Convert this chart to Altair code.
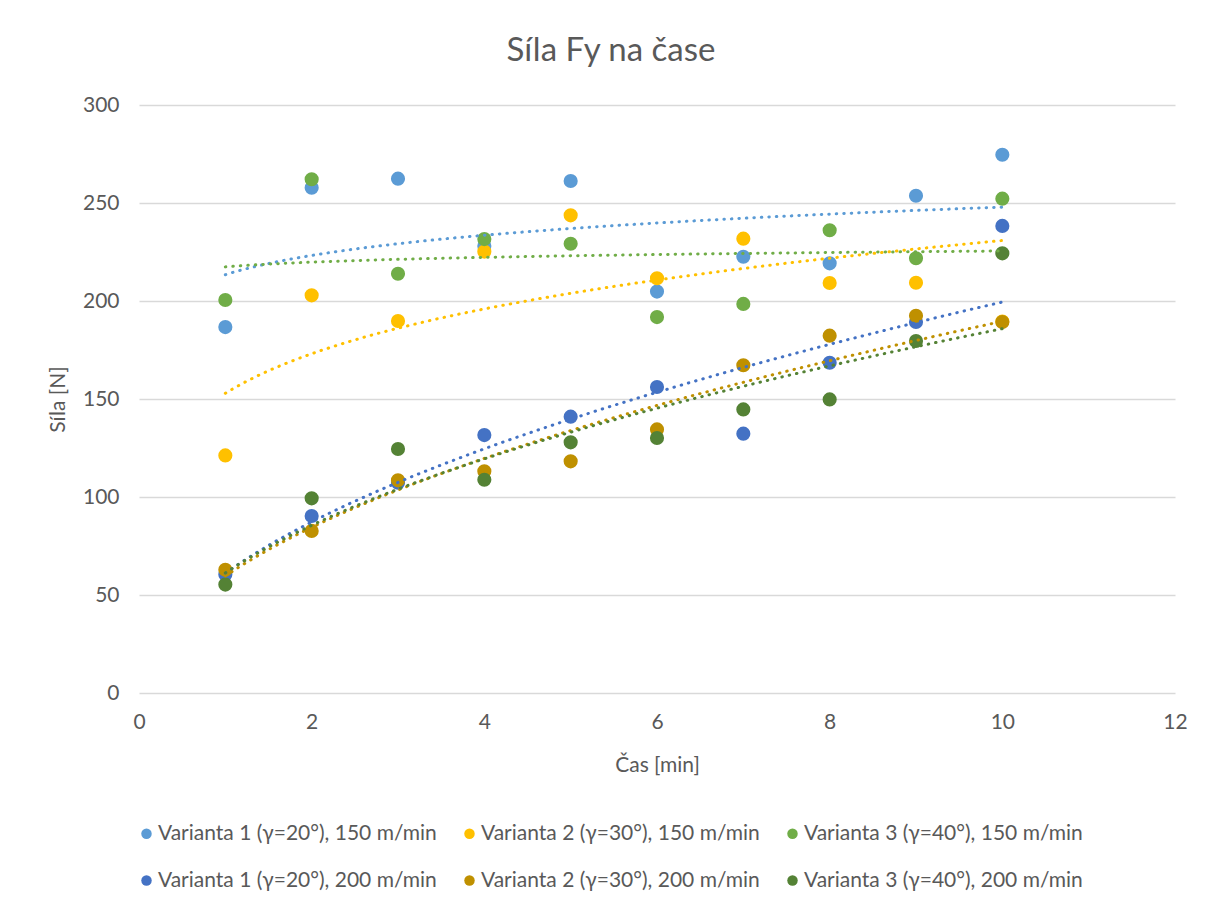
import altair as alt
import pandas as pd

# ---- data ----
cas = [1, 2, 3, 4, 5, 6, 7, 8, 9, 10]
series_names = [
    "Varianta 1 (γ=20°), 150 m/min",
    "Varianta 2 (γ=30°), 150 m/min",
    "Varianta 3 (γ=40°), 150 m/min",
    "Varianta 1 (γ=20°), 200 m/min",
    "Varianta 2 (γ=30°), 200 m/min",
    "Varianta 3 (γ=40°), 200 m/min",
]
v1_150 = [186.7, 257.8, 262.4, 228.0, 261.2, 204.8, 222.6, 219.2, 253.7, 274.6]
v2_150 = [121.2, 202.9, 189.8, 225.2, 243.7, 211.6, 231.8, 209.2, 209.3, 189.5]
v3_150 = [200.5, 262.1, 213.9, 231.6, 229.2, 191.8, 198.5, 236.1, 221.8, 252.2]
v1_200 = [60.5, 90.3, 107.3, 131.6, 141.0, 156.1, 132.3, 168.5, 189.3, 238.3]
v2_200 = [62.9, 82.7, 108.5, 113.1, 118.2, 134.5, 167.2, 182.3, 192.5, 189.3]
v3_200 = [55.3, 99.3, 124.5, 108.8, 127.9, 130.1, 144.7, 149.8, 179.6, 224.3]
colors = ["#5B9BD5", "#FFC000", "#70AD47", "#4472C4", "#BF9000", "#548235"]
x_ticks = [0, 2, 4, 6, 8, 10, 12]
y_ticks = [0, 50, 100, 150, 200, 250, 300]

rows = []
for name, vals in zip(series_names, [v1_150, v2_150, v3_150, v1_200, v2_200, v3_200]):
    for x, y in zip(cas, vals):
        rows.append({"serie": name, "cas": x, "sila": y})
df = pd.DataFrame(rows)

TXT = "#595959"
FONT = "Lato"

color_scale = alt.Scale(domain=series_names, range=colors)

x_enc = alt.X(
    "cas:Q",
    scale=alt.Scale(domain=[0, 12], nice=False),
    axis=alt.Axis(values=x_ticks, format="d", title="Čas [min]", grid=False,
                  labelFlush=False, labelPadding=18, titlePadding=22),
)
y_enc = alt.Y(
    "sila:Q",
    scale=alt.Scale(domain=[0, 300], nice=False),
    axis=alt.Axis(values=y_ticks, title="Síla [N]", grid=True,
                  labelFlush=False, labelPadding=20, titlePadding=14),
)

points = alt.Chart(df).mark_circle(size=200, opacity=1).encode(
    x=x_enc,
    y=y_enc,
    color=alt.Color(
        "serie:N",
        scale=color_scale,
        legend=alt.Legend(
            title=None, orient="none", legendX=-3, legendY=718,
            columns=3, direction="horizontal", symbolType="circle",
            symbolSize=110, symbolStrokeWidth=0, labelFont=FONT,
            labelFontSize=21, labelColor=TXT, columnPadding=22,
            rowPadding=25, labelOffset=1, labelLimit=400,
        ),
    ),
)

trend = alt.Chart(df).transform_regression(
    "cas", "sila", groupby=["serie"], method="pow", extent=[1, 10]
).mark_line(strokeWidth=3, strokeDash=[0.5, 7], strokeCap="round").encode(
    x="cas:Q",
    y="sila:Q",
    color=alt.Color("serie:N", scale=color_scale, legend=None),
)

chart = alt.layer(points, trend).properties(
    width=1036,
    height=588,
    autosize=alt.AutoSizeParams(type="none"),
    padding={"left": 131, "top": 97, "right": 20, "bottom": 200},
    title=alt.Title("Síla Fy na čase", fontSize=33, font=FONT,
                    fontWeight="normal", color=TXT, anchor="middle",
                    dx=-46, offset=26),
).configure_view(stroke=None).configure_axis(
    labelFont=FONT, titleFont=FONT, labelColor=TXT, titleColor=TXT,
    titleFontWeight="normal", labelFontSize=21, titleFontSize=21,
    gridColor="#D9D9D9", gridWidth=1.3, domain=False, ticks=False,
)

chart.save("out.html", embed_options={"renderer": "svg", "actions": False})
